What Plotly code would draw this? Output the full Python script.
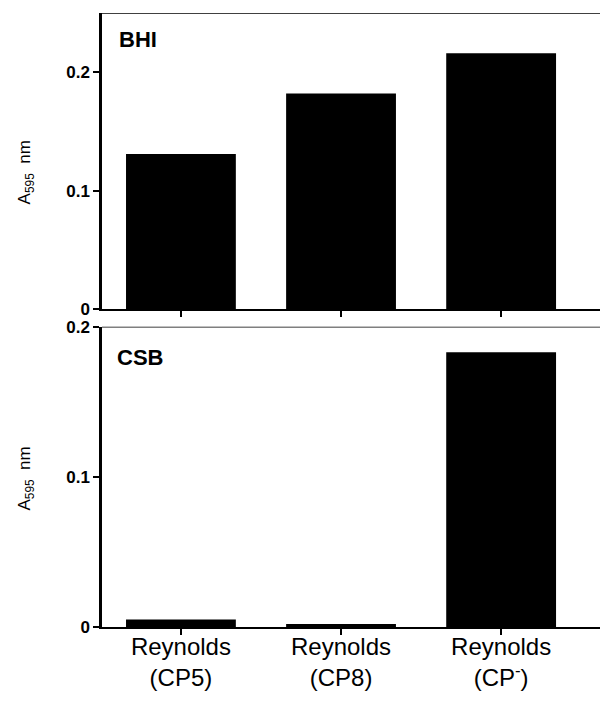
import plotly.graph_objects as go

categories = ["Reynolds<br>(CP5)", "Reynolds<br>(CP8)", "Reynolds<br>(CP<sup>-</sup>)"]
bhi_values = [0.131, 0.182, 0.216]
csb_values = [0.005, 0.002, 0.183]
y_ticks = [0, 0.1, 0.2]
y_tick_labels = ["<b>0</b>", "<b>0.1</b>", "<b>0.2</b>"]
panel_labels = ["BHI", "CSB"]
y_title = "A<sub>595</sub>  nm"

FONT = "Liberation Sans, Arial, Helvetica, sans-serif"
xpos = [0, 1, 2]

OFF = 8  # page body margin
W, H = 608, 705
L = 101.7 - OFF
T = 13 - OFF
R = W - (606 - OFF)
B = H - (626.7 - OFF)
ph = H - T - B
pw = W - L - R


def py(y_img):
    return (H - B - (y_img - OFF)) / ph


def px(x_img):
    return ((x_img - OFF) - L) / pw


fig = go.Figure()
fig.add_trace(go.Bar(x=xpos, y=bhi_values, xaxis="x2", yaxis="y2",
                     marker=dict(color="black", line=dict(width=0)), width=0.686))
fig.add_trace(go.Bar(x=xpos, y=csb_values, xaxis="x", yaxis="y",
                     marker=dict(color="black", line=dict(width=0)), width=0.686))

top_dom_bottom = py(309)
bot_dom_top = py(326.7)

xr = [-0.493, 2.655]
common_x = dict(range=xr, showline=True, linewidth=2, linecolor="black",
                ticks="outside", ticklen=6, tickwidth=1.5, tickcolor="black",
                showgrid=False, zeroline=False, tickvals=xpos)
common_y = dict(showline=True, linewidth=2.5, linecolor="black",
                ticks="outside", ticklen=6, tickwidth=1.5, tickcolor="black",
                showgrid=False, zeroline=False, tickvals=y_ticks, ticktext=y_tick_labels,
                tickfont=dict(family=FONT, size=17, color="black"))

fig.update_layout(
    width=W, height=H,
    margin=dict(l=L, r=R, t=T, b=B, autoexpand=False),
    paper_bgcolor="white", plot_bgcolor="white",
    showlegend=False,
    font=dict(family=FONT, color="black"),
    xaxis=dict(**common_x, domain=[0, 1], anchor="y", ticktext=categories,
               ticklabelstandoff=-9,
               tickfont=dict(family=FONT, size=24, color="black")),
    yaxis=dict(**common_y, domain=[0, bot_dom_top], range=[0, 0.2], anchor="x"),
    xaxis2=dict(**common_x, domain=[0, 1], anchor="y2", showticklabels=False),
    yaxis2=dict(**common_y, domain=[top_dom_bottom, 1], range=[0, 0.25], anchor="x2"),
)

# frame top/right borders
for xa, ya, ytop in [("x2", "y2", 0.25), ("x", "y", 0.2)]:
    fig.add_shape(type="line", xref=xa, yref=ya, x0=xr[0], x1=xr[1], y0=ytop, y1=ytop,
                  line=dict(color="black", width=1.5))
    fig.add_shape(type="line", xref=xa, yref=ya, x0=xr[1], x1=xr[1], y0=0, y1=ytop,
                  line=dict(color="black", width=1.5))

# panel labels
fig.add_annotation(text="<b>" + panel_labels[0] + "</b>", xref="paper", yref="paper",
                   x=px(119), y=py(39), xanchor="left", yanchor="middle", xshift=-2,
                   showarrow=False, font=dict(family=FONT, size=22, color="black"))
fig.add_annotation(text="<b>" + panel_labels[1] + "</b>", xref="paper", yref="paper",
                   x=px(117), y=py(357), xanchor="left", yanchor="middle", xshift=-2,
                   showarrow=False, font=dict(family=FONT, size=22, color="black"))

# y titles
for yc in [172, 478]:
    fig.add_annotation(text=y_title, xref="paper", yref="paper",
                       x=px(26), y=py(yc), xanchor="center", yanchor="middle",
                       textangle=-90, showarrow=False, font=dict(family=FONT, size=17, color="black"))

fig.write_html("out.html")
